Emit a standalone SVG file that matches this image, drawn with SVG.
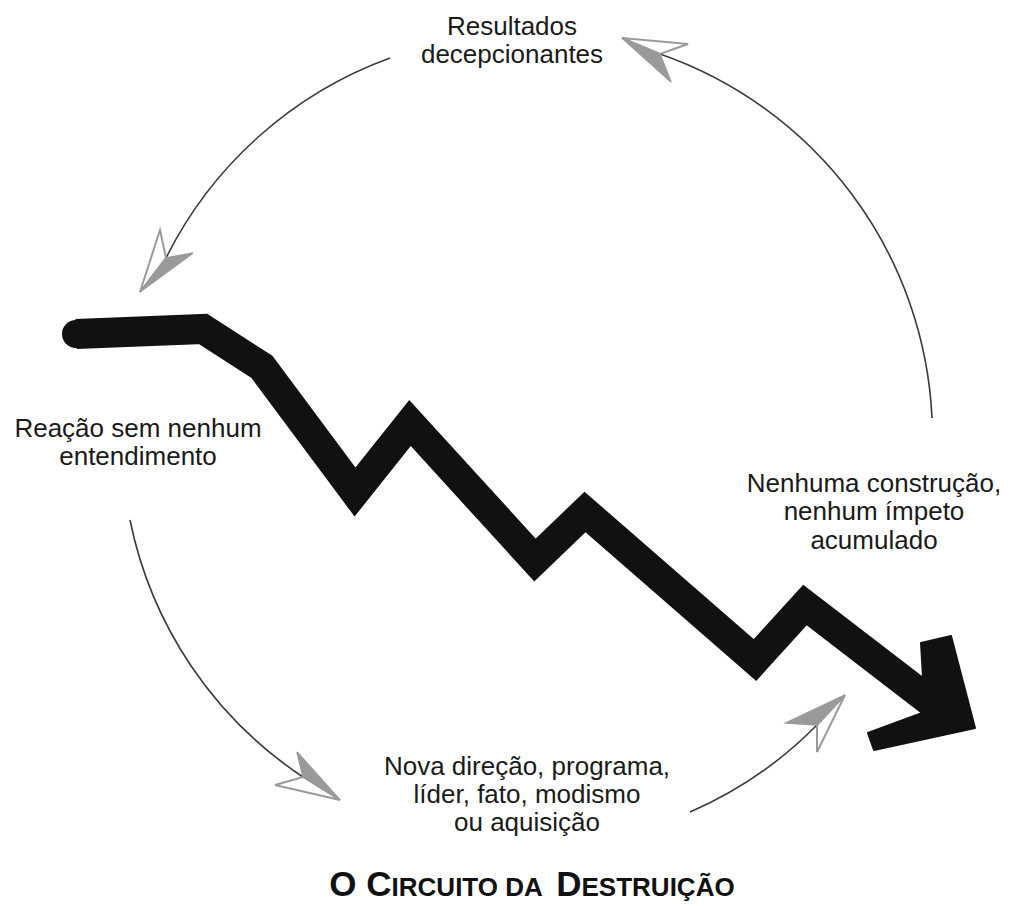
<svg xmlns="http://www.w3.org/2000/svg" width="1011" height="906" viewBox="0 0 1011 906">
<style>
.lbl{font-family:"Liberation Sans",Arial,sans-serif;font-size:26px;fill:#1a1a1a;text-anchor:middle}
.arc{fill:none;stroke:#3a3a3a;stroke-width:1.6}
.hf{fill:#9a9a9a;stroke:#9a9a9a;stroke-width:1.5;stroke-linejoin:miter}
.ho{fill:#fff;stroke:#9a9a9a;stroke-width:2;stroke-linejoin:miter}
.title{font-family:"Liberation Sans",Arial,sans-serif;font-weight:bold;fill:#111;text-anchor:middle}
</style>
<rect width="1011" height="906" fill="#fff"/>
<g id="connectors">
<path class="arc" d="M932,418 A405,405 0 0 0 660,54"/>
<polygon class="ho" points="622,38 688,44 660,54"/>
<polygon class="hf" points="622,38 660,54 671,82"/>
<path class="arc" d="M390,58 A405,405 0 0 0 166,258"/>
<polygon class="ho" points="140,292 160,230 166,258"/>
<polygon class="hf" points="140,292 166,258 193,253"/>
<path class="arc" d="M130,520 A405,405 0 0 0 303,777"/>
<polygon class="hf" points="340,800 297,752 303,777"/>
<polygon class="ho" points="340,800 303,777 275,785"/>
<path class="arc" d="M690,812 A405,405 0 0 0 817,725"/>
<polygon class="hf" points="845,695 786,723 817,725"/>
<polygon class="ho" points="845,695 817,725 817,752"/>
</g>
<g id="trend">
<polyline points="76,334 203,329 262,367 355,492 410,423 535,560 585,512 755,660 805,605 935,705" fill="none" stroke="#111" stroke-width="30" stroke-linejoin="miter" stroke-linecap="butt"/>
<circle cx="76" cy="334" r="14" fill="#111"/>
<polygon points="921,643 951,636 975,728 874,750 868,733 925,712" fill="#111" stroke="#111" stroke-width="2" stroke-linejoin="round"/>
</g>
<g id="n1"><text class="lbl" x="512" y="35">Resultados</text><text class="lbl" x="512" y="63">decepcionantes</text></g>
<g id="n2"><text class="lbl" x="138" y="437">Reação sem nenhum</text><text class="lbl" x="138" y="465">entendimento</text></g>
<g id="n3"><text class="lbl" x="874" y="492">Nenhuma construção,</text><text class="lbl" x="874" y="520">nenhum ímpeto</text><text class="lbl" x="874" y="549">acumulado</text></g>
<g id="n4"><text class="lbl" x="527" y="775">Nova direção, programa,</text><text class="lbl" x="527" y="803">líder, fato, modismo</text><text class="lbl" x="527" y="831">ou aquisição</text></g>
<g id="title"><text class="title" x="532" y="896" xml:space="preserve"><tspan font-size="35">O C</tspan><tspan font-size="26">IRCUITO DA  </tspan><tspan font-size="35">D</tspan><tspan font-size="26">ESTRUIÇÃO</tspan></text></g>
</svg>
